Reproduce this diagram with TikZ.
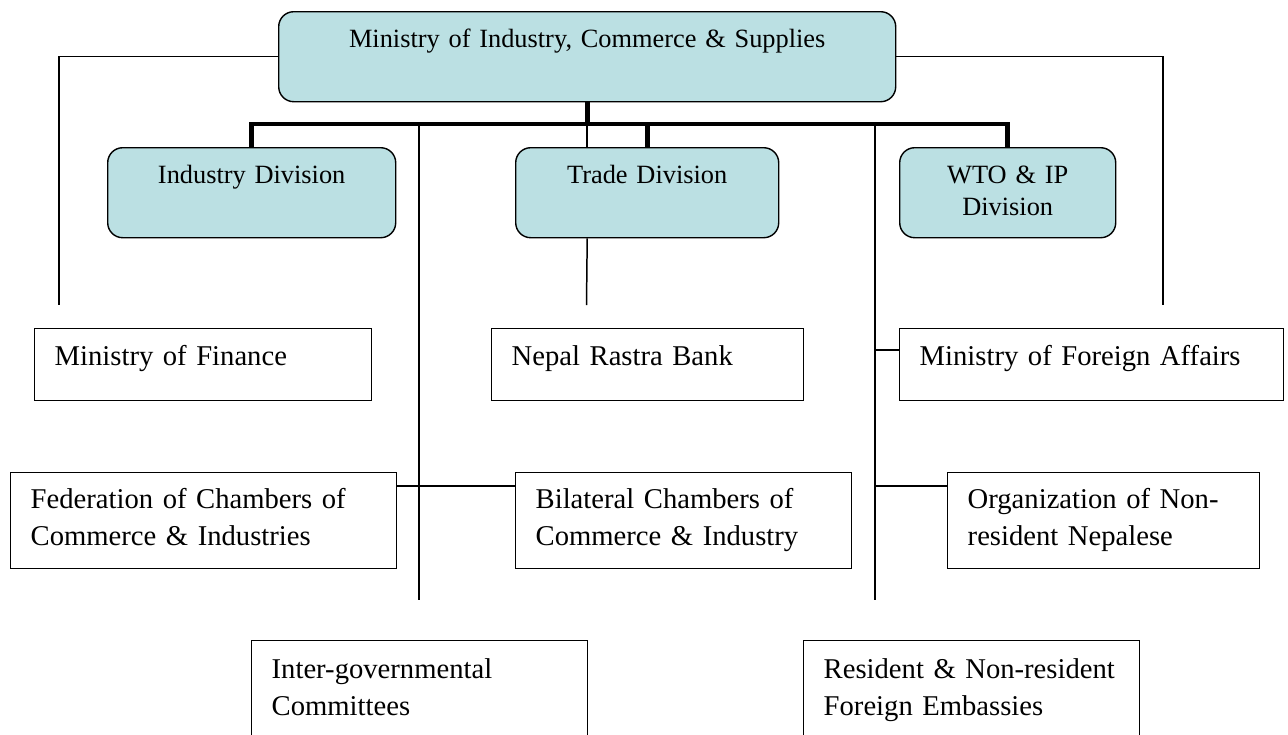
\documentclass[tikz,border=0pt]{standalone}
\usepackage{fontspec}
\setmainfont{Liberation Serif}
\usepackage{xcolor}
\usepackage{tikz}
\usetikzlibrary{shapes,positioning}
\definecolor{divfill}{HTML}{BBE0E3}
\tikzset{
    every node/.style={font=\fontsize{16.3}{21}\selectfont}
}

\begin{document}
\begin{tikzpicture}
            % Define styles for boxes and lines
            \tikzstyle{divbox} = [draw, line width=0.8pt, rounded corners=0.3cm,
                fill=divfill, anchor=north west, inner xsep=0.3cm, inner ysep=0pt,
                align=center, text height=0.72cm, text depth=1.08cm,
                font=\fontsize{15}{18}\selectfont]
            \tikzstyle{orgbox} = [draw, line width=0.8pt, fill=white,
                anchor=north west, inner xsep=0.4cm, inner ysep=0pt,
                align=left, text height=0.74cm, text depth=0.70cm]
            \tikzstyle{tallbox} = [orgbox, text height=0.72cm, text depth=1.20cm]
            \tikzstyle{link} = [draw, line width=0.85pt]
            \tikzstyle{bus} = [draw, line width=2.8pt]

            \useasboundingbox (0,0) rectangle (25.76,-14.68);
            \clip (0,0) rectangle (25.76,-14.68);

            % Ministry and divisions
            \node[divbox, text width=11.74cm] (mics) at (5.56,-0.22)
                {Ministry of Industry, Commerce \& Supplies};
            \node[divbox, text width=5.16cm] (indiv) at (2.14,-2.94) {Industry Division};
            \node[divbox, text width=4.66cm] (trdiv) at (10.30,-2.94) {Trade Division};
            \node[divbox, text width=3.72cm] (wtodiv) at (17.98,-2.94) {WTO \& IP\\Division};

            % Related bodies
            \node[orgbox, text width=5.94cm] (mof) at (0.68,-6.56) {Ministry of Finance};
            \node[orgbox, text width=5.44cm] (nrb) at (9.82,-6.56) {Nepal Rastra Bank};
            \node[orgbox, text width=6.88cm] (mofa) at (17.98,-6.56) {Ministry of Foreign Affairs};
            \node[tallbox, text width=6.92cm] (fncci) at (0.20,-9.44)
                {Federation of Chambers of\\Commerce \& Industries};
            \node[tallbox, text width=5.92cm] (bcci) at (10.30,-9.44)
                {Bilateral Chambers of\\Commerce \& Industry};
            \node[tallbox, text width=5.44cm] (nrn) at (18.94,-9.44)
                {Organization of Non-\\resident Nepalese};
            \node[orgbox, text width=5.92cm, text height=0.76cm, text depth=1.4cm] (igc)
                at (5.02,-12.80) {Inter-governmental\\Committees};
            \node[orgbox, text width=5.92cm, text height=0.76cm, text depth=1.4cm] (emb)
                at (16.06,-12.80) {Resident \& Non-resident\\Foreign Embassies};

            % Free ends of the lines
            \coordinate (busY) at (0,-2.48);
            \coordinate (mofEnd) at (1.18,-6.10);
            \coordinate (mofaEnd) at (23.26,-6.10);
            \coordinate (nrbEnd) at (11.73,-6.10);
            \coordinate (igcEnd) at (8.38,-12.00);
            \coordinate (embEnd) at (17.50,-12.00);
            \coordinate (mofaY) at (0,-7.00);
            \coordinate (chamY) at (0,-9.72);

            % Thick bus to the divisions
            \draw[bus] (mics.south) -- (mics.south |- busY);
            \draw[bus] (indiv.north) -- (indiv.north |- busY)
                -- (wtodiv.north |- busY) -- (wtodiv.north);
            \draw[bus] (trdiv.north) -- (trdiv.north |- busY);

            % Thin links
            \draw[link] (mics.west) -| (mofEnd);
            \draw[link] (mics.east) -| (mofaEnd);
            \draw[link] (mics.south |- busY) -- (mics.south |- trdiv.north);
            \draw[link] (mics.south |- trdiv.south) -- (nrbEnd);
            \draw[link] (igcEnd |- busY) -- (igcEnd);
            \draw[link] (embEnd |- busY) -- (embEnd);
            \draw[link] (fncci.east |- chamY) -- (bcci.west |- chamY);
            \draw[link] (embEnd |- mofaY) -- (mofa.west |- mofaY);
            \draw[link] (embEnd |- chamY) -- (nrn.west |- chamY);
        \end{tikzpicture}
\end{document}
